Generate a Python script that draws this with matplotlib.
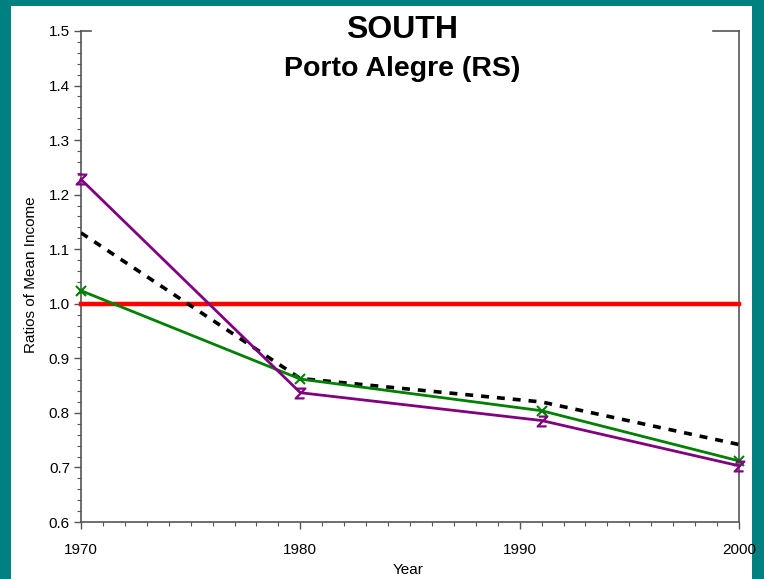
import numpy as np
import matplotlib
matplotlib.use('Agg')
import matplotlib.pyplot as plt
from matplotlib.patches import Rectangle
from matplotlib.ticker import MultipleLocator

plt.rcParams['font.family'] = ['Liberation Sans', 'DejaVu Sans']

years = [1970, 1980, 1991, 2000]
purple_vals = [1.228, 0.837, 0.786, 0.703]
green_vals = [1.024, 0.862, 0.804, 0.712]
black_vals = [1.130, 0.863, 0.820, 0.742]
red_years = [1970, 2000]
red_vals = [1.0, 1.0]

fig = plt.figure(figsize=(7.64, 5.79), dpi=100)
fig.patch.set_facecolor('#008080')
fig.patches.append(Rectangle((11/764, 0), (752-11)/764, 1-6/579,
                             transform=fig.transFigure, facecolor='white',
                             edgecolor='none', zorder=-5))

ax = fig.add_axes([81/764, 1-522/579, (739-81)/764, (522-31)/579])
ax.set_facecolor('none')

ax.plot(red_years, red_vals, color='#ff0000', lw=3.2, clip_on=False, zorder=3)
ax.plot(years, black_vals, color='black', lw=2.6, ls=(0, (2.2, 2.2)), zorder=4)
ax.plot(years, green_vals, color='#008000', lw=2, marker='x', ms=7,
        mew=1.5, clip_on=False, zorder=5)
ax.plot(years, purple_vals, color='#800080', lw=2, marker='$Z$', ms=8,
        mew=0.6, clip_on=False, zorder=5)

ax.set_xlim(1970, 2000)
ax.set_ylim(0.6, 1.5)
ax.xaxis.set_major_locator(MultipleLocator(10))
ax.xaxis.set_minor_locator(MultipleLocator(1))
ax.yaxis.set_major_locator(MultipleLocator(0.1))
ax.yaxis.set_minor_locator(MultipleLocator(0.02))
ax.yaxis.set_major_formatter(matplotlib.ticker.FormatStrFormatter('%.1f'))
ax.tick_params(which='major', length=5, width=1, color='#555555', labelsize=11)
ax.tick_params(which='minor', length=3, width=0.8, color='#555555')
ax.tick_params(axis='x', pad=10)
ax.tick_params(axis='y', pad=3)

for s in ['left', 'bottom', 'right']:
    ax.spines[s].set_color('#555555')
    ax.spines[s].set_linewidth(1.2)
ax.spines['top'].set_visible(False)
ax.plot([0, 0.015], [1, 1], transform=ax.transAxes, color='#555555', lw=1.2, clip_on=False)
ax.plot([0.96, 1.0], [1, 1], transform=ax.transAxes, color='#555555', lw=1.2, clip_on=False)

fig.text(31/764, 1-275/579, 'Ratios of Mean Income', rotation=90,
         ha='center', va='center', fontsize=11)
fig.text(408/764, 1-570/579, 'Year', ha='center', va='center',
         fontsize=11)

fig.text(402/764, 1-30/579, 'SOUTH', ha='center', va='center',
         fontsize=23, fontweight='bold')
fig.text(402/764, 1-69/579, 'Porto Alegre (RS)', ha='center', va='center',
         fontsize=20.5, fontweight='bold')

fig.savefig('out.png', dpi=100, facecolor=fig.get_facecolor())
